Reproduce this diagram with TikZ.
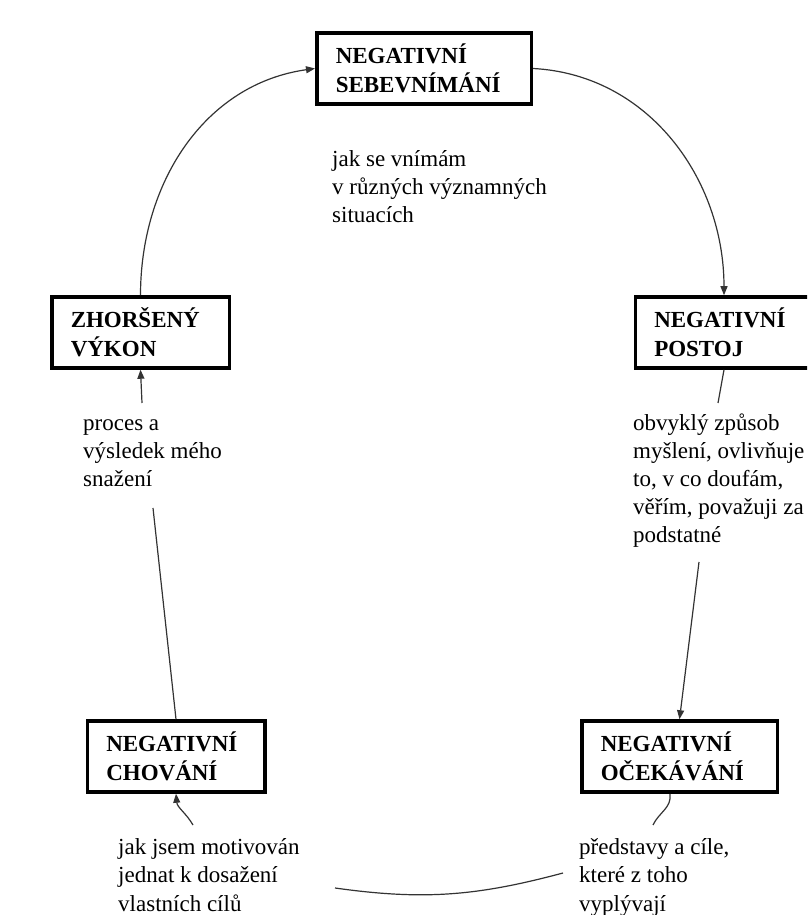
\documentclass[tikz,border=0pt]{standalone}
\usepackage{fontspec}
\setmainfont{Liberation Serif}
\usetikzlibrary{arrows.meta}
\begin{document}
\begin{tikzpicture}[x=1pt,y=1pt,
  box/.style={draw,line width=3.5pt,align=left,inner xsep=19pt,text width=#1,
    minimum height=71pt,font=\bfseries\fontsize{23}{29}\selectfont},
  note/.style={anchor=base west,align=left,inner sep=0pt,
    font=\fontsize{23}{28}\selectfont},
  link/.style={line width=1.2pt,black!80},
  tip/.style={-{Triangle[length=9pt,width=7pt]}}]
\path[use as bounding box] (0,0) rectangle (807,915);
\clip (0,0) rectangle (807,915);
% boxes
\node[box=176.5pt] (sebe) at (424,846.5) {NEGATIVNÍ\\SEBEVNÍMÁNÍ};
\node[box=139.5pt] (zhor) at (140.5,582.5) {ZHORŠENÝ\\VÝKON};
\node[box=139.5pt] (postoj) at (724,582.5) {NEGATIVNÍ\\POSTOJ};
\node[box=157.5pt] (ocek) at (679.5,158.5) {NEGATIVNÍ\\OČEKÁVÁNÍ};
\node[box=139.5pt] (chov) at (176,158.5) {NEGATIVNÍ\\CHOVÁNÍ};
% notes (placed by their last line)
\node[note] (sebenote) at (332,692) {jak se vnímám\\v různých významných\\situacích};
\node[note] (zhornote) at (83,428) {proces a\\výsledek mého\\snažení};
\node[note] (postojnote) at (633,372) {obvyklý způsob\\myšlení, ovlivňuje\\to, v co doufám,\\věřím, považuji za\\podstatné};
\node[note] (chovnote) at (118,4) {jak jsem motivován\\jednat k dosažení\\vlastních cílů};
\node[note] (oceknote) at (579,4) {představy a cíle,\\které z toho\\vyplývají};
% free ends
\coordinate (p1) at (718,512);
\coordinate (p2) at (699,353);
\coordinate (o0) at (670,121);
\coordinate (o1) at (653,90);
\coordinate (o2) at (563,42);
\coordinate (c2) at (335,27);
\coordinate (c1) at (193,90);
\coordinate (z2) at (153,407);
\coordinate (z1) at (142,512);
% connectors
\draw[link,tip] (zhor.north) to[out=90,in=188] (sebe.west);
\draw[link,tip] (sebe.east) to[out=-3,in=90] (postoj.north);
\draw[link] (postoj.south) -- (p1);
\draw[link,tip] (p2) -- (ocek.north);
\draw[link] (o0) to[out=-82,in=65] (o1);
\draw[link] (o2) to[out=195,in=-8] (c2);
\draw[link,tip] (c1) to[out=120,in=-85] (chov.south);
\draw[link] (chov.north) -- (z2);
\draw[link,tip] (z1) -- (zhor.south);
\end{tikzpicture}
\end{document}
